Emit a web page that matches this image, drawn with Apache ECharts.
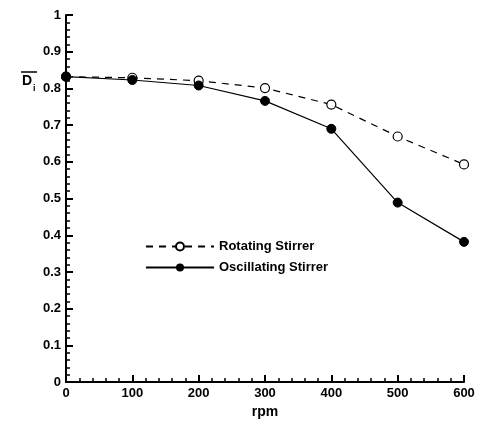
<!DOCTYPE html>
<html>
<head>
<meta charset="utf-8">
<script src="https://cdn.jsdelivr.net/npm/echarts@6/dist/echarts.min.js"></script>
<style>
  html, body { margin: 0; padding: 0; background: #fff; }
  #chart { width: 483px; height: 424px; }
</style>
</head>
<body>
<div id="chart"></div>
<script>
// rpm values
const rpm = [0, 100, 200, 300, 400, 500, 600];
// D_i for each stirrer
const rotating = [0.832, 0.829, 0.821, 0.801, 0.756, 0.669, 0.593];
const oscillating = [0.832, 0.823, 0.808, 0.766, 0.690, 0.489, 0.382];

const font = 'Liberation Sans';

let chart = echarts.init(document.getElementById('chart'));

const axisCommon = {
  axisLine: { onZero: false, lineStyle: { color: '#000', width: 2 } },
  axisTick: { inside: true, length: 7, lineStyle: { color: '#000', width: 2 } },
  minorTick: { show: true, splitNumber: 5, length: 4, lineStyle: { color: '#000', width: 1.5 } },
  splitLine: { show: false },
  axisLabel: { color: '#000', fontFamily: font, fontWeight: 'bold', fontSize: 13 }
};

let option = {
  animation: false,
  backgroundColor: '#fff',
  grid: { left: 66, right: 19, top: 15, bottom: 36 },
  xAxis: Object.assign({}, axisCommon, {
    type: 'value', min: 0, max: 600, interval: 100,
    name: 'rpm', nameLocation: 'middle', nameGap: 20,
    nameTextStyle: { color: '#000', fontFamily: font, fontWeight: 'bold', fontSize: 14 },
    axisLabel: Object.assign({}, axisCommon.axisLabel, { margin: 5 })
  }),
  yAxis: Object.assign({}, axisCommon, {
    type: 'value', min: 0, max: 1, interval: 0.1,
    axisLabel: Object.assign({}, axisCommon.axisLabel, { margin: 5 })
  }),
  legend: {
    orient: 'vertical',
    left: 140, top: 235,
    itemWidth: 68, itemHeight: 10, itemGap: 8,
    textStyle: { color: '#000', fontFamily: font, fontWeight: 'bold', fontSize: 13 },
    data: ['Rotating Stirrer', 'Oscillating Stirrer']
  },
  graphic: [
    { type: 'text', left: 22, top: 74,
      style: { text: 'D', font: 'bold 14px "Liberation Sans"', fill: '#000' } },
    { type: 'text', left: 33, top: 84,
      style: { text: 'i', font: 'bold 9px "Liberation Sans"', fill: '#000' } },
    { type: 'line', shape: { x1: 21, y1: 72, x2: 37, y2: 72 },
      style: { stroke: '#000', lineWidth: 1.5 } }
  ],
  series: [
    {
      name: 'Rotating Stirrer', type: 'line',
      data: rpm.map((x, i) => [x, rotating[i]]),
      symbol: 'circle', symbolSize: 9,
      lineStyle: { color: '#000', width: 1.2, type: [7, 6] },
      itemStyle: { color: '#fff', borderColor: '#000', borderWidth: 1.2 }
    },
    {
      name: 'Oscillating Stirrer', type: 'line',
      data: rpm.map((x, i) => [x, oscillating[i]]),
      symbol: 'circle', symbolSize: 9,
      lineStyle: { color: '#000', width: 1.2 },
      itemStyle: { color: '#000', borderColor: '#000' }
    }
  ]
};

chart.setOption(option, true);
window.addEventListener('resize', () => {
  chart.resize();
});
</script>
</body>
</html>
